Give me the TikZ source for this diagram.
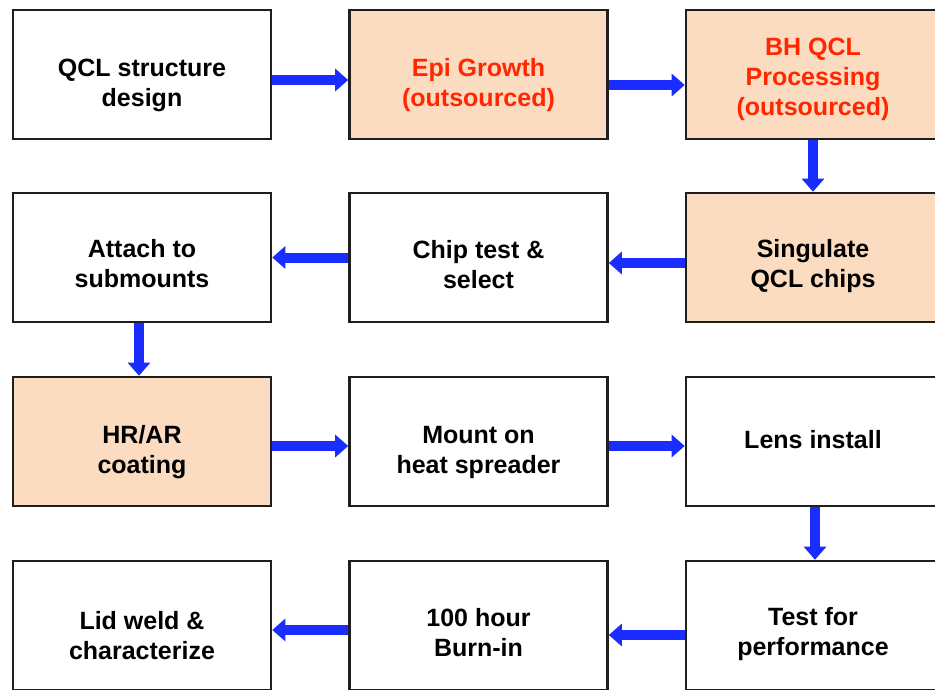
\documentclass[tikz,border=0pt]{standalone}
\usepackage{fontspec}
\setmainfont{Liberation Sans}
\usetikzlibrary{arrows.meta,shadows}
\definecolor{peach}{RGB}{252,220,193}
\definecolor{ptext}{RGB}{255,38,0}
\definecolor{arrowblue}{RGB}{25,45,255}
\begin{document}
\begin{tikzpicture}[x=1pt,y=-1pt,
 box/.style={draw=black!88, line width=2.6pt, minimum width=258pt, minimum height=129pt, inner sep=0pt, fill=white,
   drop shadow={shadow xshift=1.2pt, shadow yshift=-1.2pt, opacity=0.35}},
 outbox/.style={box, fill=peach},
 txt/.style={font=\bfseries\fontsize{25}{30}\selectfont, align=center, inner sep=0pt},
 redtxt/.style={txt, text=ptext},
 flow/.style={draw=arrowblue, line width=10pt, -{Triangle[width=22pt,length=13pt]}}
]
\useasboundingbox (0,0) rectangle (935,690);
\clip (0,0) rectangle (935,690);
% boxes
\node[box] (b1) at (142,74.5) {};
\node[outbox] (b2) at (478.5,74.5) {};
\node[outbox, minimum width=254pt] (b3) at (813,74.5) {};
\node[box] (b4) at (142,257.5) {};
\node[box] (b5) at (478.5,257.5) {};
\node[outbox, minimum width=254pt] (b6) at (813,257.5) {};
\node[outbox] (b7) at (142,441.5) {};
\node[box] (b8) at (478.5,441.5) {};
\node[box, minimum width=254pt] (b9) at (813,441.5) {};
\node[box] (b10) at (142,625.5) {};
\node[box] (b11) at (478.5,625.5) {};
\node[box, minimum width=254pt] (b12) at (813,625.5) {};
% texts
\node[txt] (t1) at ([yshift=-11pt]b1.center) {QCL structure\\design};
\node[redtxt] (t2) at ([yshift=-11pt]b2.center) {Epi Growth\\(outsourced)};
\node[redtxt] (t3) at ([yshift=-5pt]b3.center) {BH QCL\\Processing\\(outsourced)};
\node[txt] (t4) at ([yshift=-6.5pt]b4.center) {Attach to\\submounts};
\node[txt] (t5) at ([yshift=-7pt]b5.center) {Chip test \&\\select};
\node[txt] (t6) at ([yshift=-9pt]b6.center) {Singulate\\QCL chips};
\node[txt] (t7) at ([yshift=-10.5pt]b7.center) {HR/AR\\coating};
\node[txt] (t8) at ([yshift=-10.5pt]b8.center) {Mount on\\heat spreader};
\node[txt] (t9) at ([yshift=2pt]b9.center) {Lens install};
\node[txt] (t10) at ([yshift=-10pt]b10.center) {Lid weld \&\\characterize};
\node[txt] (t11) at ([yshift=-7pt]b11.center) {100 hour\\Burn-in};
\node[txt] (t12) at ([yshift=-9pt]b12.center) {Test for\\performance};
% connectors
\draw[flow] ([yshift=-5.5pt]b1.east) -- ([yshift=-5.5pt]b2.west);
\draw[flow] ([yshift=-10.5pt]b2.east) -- ([yshift=-10.5pt]b3.west);
\draw[flow] (b3.south) -- (b6.north);
\draw[flow] ([yshift=-5.5pt]b6.west) -- ([yshift=-5.5pt]b5.east);
\draw[flow] (b5.west) -- (b4.east);
\draw[flow] ([xshift=-3pt]b4.south) -- ([xshift=-3pt]b7.north);
\draw[flow] ([yshift=-4.5pt]b7.east) -- ([yshift=-4.5pt]b8.west);
\draw[flow] ([yshift=-4.5pt]b8.east) -- ([yshift=-4.5pt]b9.west);
\draw[flow] ([xshift=2pt]b9.south) -- ([xshift=2pt]b12.north);
\draw[flow] ([yshift=-9.5pt]b12.west) -- ([yshift=-9.5pt]b11.east);
\draw[flow] ([yshift=-4.5pt]b11.west) -- ([yshift=-4.5pt]b10.east);
\end{tikzpicture}
\end{document}
